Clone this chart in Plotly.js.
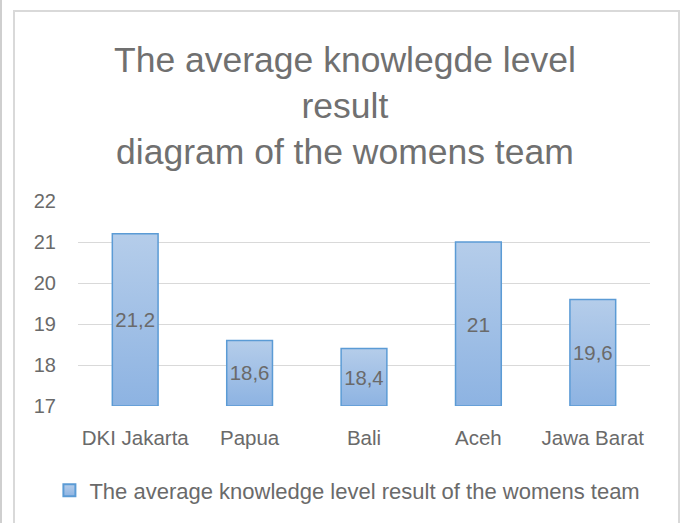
<!DOCTYPE html>
<html>
<head>
<meta charset="utf-8">
<script src="https://cdn.plot.ly/plotly-3.0.1.min.js"></script>
<style>
  html, body { margin: 0; padding: 0; background: #fff; }
  #wrap { position: relative; width: 683px; height: 523px; overflow: hidden; }
  #chart { position: absolute; left: 0; top: 0; width: 683px; height: 523px; }
  #frame { position: absolute; left: 13px; top: 10px; width: 663px; height: 530px;
           border: 2px solid #d9d9d9; pointer-events: none; }
  #edge { position: absolute; left: 0; top: 0; width: 2px; height: 523px; background: #cfcfcf; pointer-events: none; }
</style>
</head>
<body>
<div id="wrap">
  <div id="chart"></div>
  <div id="frame"></div>
  <div id="edge"></div>
</div>
<script>
const categories = ["DKI Jakarta", "Papua", "Bali", "Aceh", "Jawa Barat"];
const values = [21.2, 18.6, 18.4, 21, 19.6];
const valueLabels = ["21,2", "18,6", "18,4", "21", "19,6"];
const seriesName = "The average knowledge level result of the womens team";
const titleText = "The average knowlegde level<br>result<br>diagram of the womens team";
const yTicks = [17, 18, 19, 20, 21, 22];
const axisMin = 17;

const fontFam = "Liberation Sans, Arial, sans-serif";
const gray = "#6a6a6a";

const trace = {
  type: "bar",
  x: categories,
  y: values.map(v => v - axisMin),
  base: axisMin,
  text: valueLabels,
  name: seriesName,
  width: 0.4,
  marker: { color: "#a2c0e6", line: { color: "#5b9bd5", width: 1.5 } },
  texttemplate: "%{text}",
  textposition: "inside",
  insidetextanchor: "middle",
  textangle: 0,
  textfont: { family: fontFam, size: 21, color: gray },
  hoverinfo: "skip",
  showlegend: true
};

const layout = {
  width: 683, height: 523,
  paper_bgcolor: "#ffffff",
  plot_bgcolor: "#ffffff",
  margin: { l: 78, r: 33, t: 201, b: 114 },
  title: {
    text: titleText,
    font: { family: fontFam, size: 35.5, color: "#707070" },
    x: 0.505, xanchor: "center",
    y: 0.862, yanchor: "top"
  },
  xaxis: {
    type: "category",
    showgrid: false,
    showline: false,
    ticks: "",
    ticklabelstandoff: 17,
    tickfont: { family: fontFam, size: 20.5, color: gray }
  },
  yaxis: {
    range: [17, 22],
    tickvals: yTicks,
    showgrid: true,
    gridcolor: "#d9d9d9",
    gridwidth: 1,
    zeroline: false,
    showline: false,
    ticks: "",
    ticklabelstandoff: 21,
    tickfont: { family: fontFam, size: 20, color: gray },
    fixedrange: true
  },
  showlegend: true,
  legend: {
    orientation: "h",
    x: -0.05, xanchor: "left",
    y: -0.31, yanchor: "top",
    font: { family: fontFam, size: 22, color: gray },
    itemsizing: "constant"
  }
};

Plotly.newPlot("chart", [trace], layout, { staticPlot: true, displayModeBar: false }).then(function (gd) {
  const svg = gd.querySelector("svg.main-svg");
  const ns = "http://www.w3.org/2000/svg";
  let defs = svg.querySelector("defs");
  const grad = document.createElementNS(ns, "linearGradient");
  grad.setAttribute("id", "barGrad");
  grad.setAttribute("x1", "0"); grad.setAttribute("y1", "0");
  grad.setAttribute("x2", "0"); grad.setAttribute("y2", "1");
  const s1 = document.createElementNS(ns, "stop");
  s1.setAttribute("offset", "0"); s1.setAttribute("stop-color", "#b5cdea");
  const s2 = document.createElementNS(ns, "stop");
  s2.setAttribute("offset", "1"); s2.setAttribute("stop-color", "#8db3e2");
  grad.appendChild(s1); grad.appendChild(s2);
  defs.appendChild(grad);
  gd.querySelectorAll(".barlayer .point path").forEach(function (p) {
    p.style.fill = "url(#barGrad)";
    p.style.fillOpacity = 1;
  });
  gd.querySelectorAll(".legend .legendpoints path").forEach(function (p) {
    p.style.fill = "url(#barGrad)";
  });
});
</script>
</body>
</html>
